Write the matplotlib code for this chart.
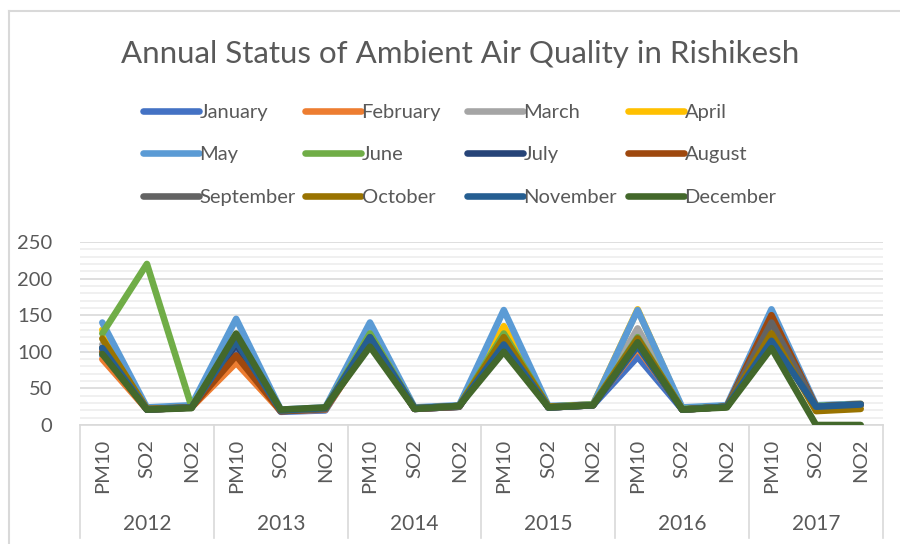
import numpy as np
import matplotlib.pyplot as plt
from matplotlib.lines import Line2D
import matplotlib.transforms as mtransforms

plt.rcParams['font.family'] = ['Lato', 'DejaVu Sans']

# Data
years = ['2012', '2013', '2014', '2015', '2016', '2017']
params = ['PM10', 'SO2', 'NO2']

months = ['January', 'February', 'March', 'April', 'May', 'June',
          'July', 'August', 'September', 'October', 'November', 'December']
colors = ['#4472C4', '#ED7D31', '#A5A5A5', '#FFC000', '#5B9BD5', '#70AD47',
          '#264478', '#9E480E', '#636363', '#997300', '#255E91', '#43682B']

january = [95, 21, 24, 100, 18, 20, 115, 22, 25, 110, 24, 27, 93, 21, 25, 115, 26, 28]
february = [90, 21, 24, 85, 19, 21, 112, 23, 26, 115, 25, 28, 105, 22, 25, 120, 26, 28]
march = [110, 22, 25, 110, 20, 22, 120, 22, 25, 120, 24, 27, 132, 22, 25, 125, 26, 28]
april = [130, 22, 25, 120, 20, 23, 125, 23, 26, 135, 25, 28, 158, 22, 26, 130, 26, 29]
may = [140, 24, 27, 145, 21, 24, 140, 24, 27, 157, 26, 28, 157, 24, 27, 158, 27, 29]
june = [125, 220, 25, 120, 20, 23, 125, 23, 26, 125, 25, 28, 120, 22, 25, 125, 26, 28]
july = [105, 21, 24, 110, 19, 22, 118, 22, 25, 115, 24, 27, 110, 21, 25, 120, 25, 28]
august = [100, 21, 24, 95, 19, 22, 115, 22, 25, 115, 24, 27, 115, 21, 25, 150, 25, 28]
september = [105, 22, 24, 115, 20, 22, 118, 22, 25, 118, 24, 27, 118, 21, 25, 140, 25, 28]
october = [118, 22, 24, 118, 20, 23, 120, 23, 26, 120, 25, 27, 118, 21, 25, 125, 19, 22]
november = [105, 21, 24, 115, 20, 23, 120, 23, 26, 110, 24, 27, 108, 21, 25, 115, 25, 28]
december = [97, 21, 23, 125, 21, 24, 107, 22, 26, 100, 24, 27, 113, 21, 24, 105, 0, 0]

series = [january, february, march, april, may, june,
          july, august, september, october, november, december]

text_color = '#595959'

fig = plt.figure(figsize=(9, 5.44), dpi=100)
ax = fig.add_axes([80 / 900, 1 - 425 / 544, 803 / 900, 183 / 544])

x = np.arange(len(years) * len(params))
lines = []
for name, vals, c in zip(months, series, colors):
    ln, = ax.plot(x, vals, color=c, lw=4.75, solid_capstyle='round',
                  solid_joinstyle='round', label=name, zorder=3)
    lines.append(ln)

ax.set_xlim(-0.5, len(x) - 0.5)
ax.set_ylim(0, 250)
ax.set_yticks(np.arange(0, 251, 50))
ax.set_yticks(np.arange(0, 251, 10), minor=True)
ax.grid(which='major', axis='y', color='#D9D9D9', lw=1.2, zorder=0)
ax.grid(which='minor', axis='y', color='#EDEDED', lw=1.2, zorder=0)
ax.tick_params(axis='y', which='both', length=0, labelsize=14.5, labelcolor=text_color, pad=20)

ax.set_xticks(x)
ax.set_xticklabels(params * len(years), rotation=90, va='top', ha='center',
                   fontsize=14.5, color=text_color)
ax.tick_params(axis='x', length=0, pad=10)

for s in ['top', 'right', 'left']:
    ax.spines[s].set_visible(False)
ax.spines['bottom'].set_color('#D9D9D9')
ax.spines['bottom'].set_linewidth(1.2)

# second level of the category axis
trans = mtransforms.blended_transform_factory(ax.transData, ax.transAxes)
for i, yr in enumerate(years):
    ax.text(i * 3 + 1, -0.54, yr, transform=trans, ha='center', va='center',
            fontsize=15, color=text_color)
for b in np.arange(len(years) + 1) * 3 - 0.5:
    ax.plot([b, b], [0, -0.62], transform=trans, color='#D9D9D9', lw=1.2, clip_on=False)

# chart border
fig.add_artist(Line2D([8.5 / 900, 8.5 / 900], [0, 1 - 11 / 544], color='#D9D9D9', lw=1.5))
fig.add_artist(Line2D([8.5 / 900, 1], [1 - 11 / 544, 1 - 11 / 544], color='#D9D9D9', lw=1.5))

fig.text(460 / 900, 1 - 54 / 544, 'Annual Status of Ambient Air Quality in Rishikesh',
         ha='center', va='center', fontsize=22.5, color=text_color)

# legend laid out row by row, one legend per column
col_x = [125, 287, 449, 610]
for c in range(4):
    idx = [c, c + 4, c + 8]
    leg = fig.legend([lines[i] for i in idx], [months[i] for i in idx],
                     loc='upper left', bbox_to_anchor=(col_x[c] / 900, 1 - 86 / 544),
                     frameon=False, fontsize=14.5, handlelength=2.75, handletextpad=0.05,
                     labelspacing=1.25, labelcolor=text_color)

fig.savefig('out.png', dpi=100)
